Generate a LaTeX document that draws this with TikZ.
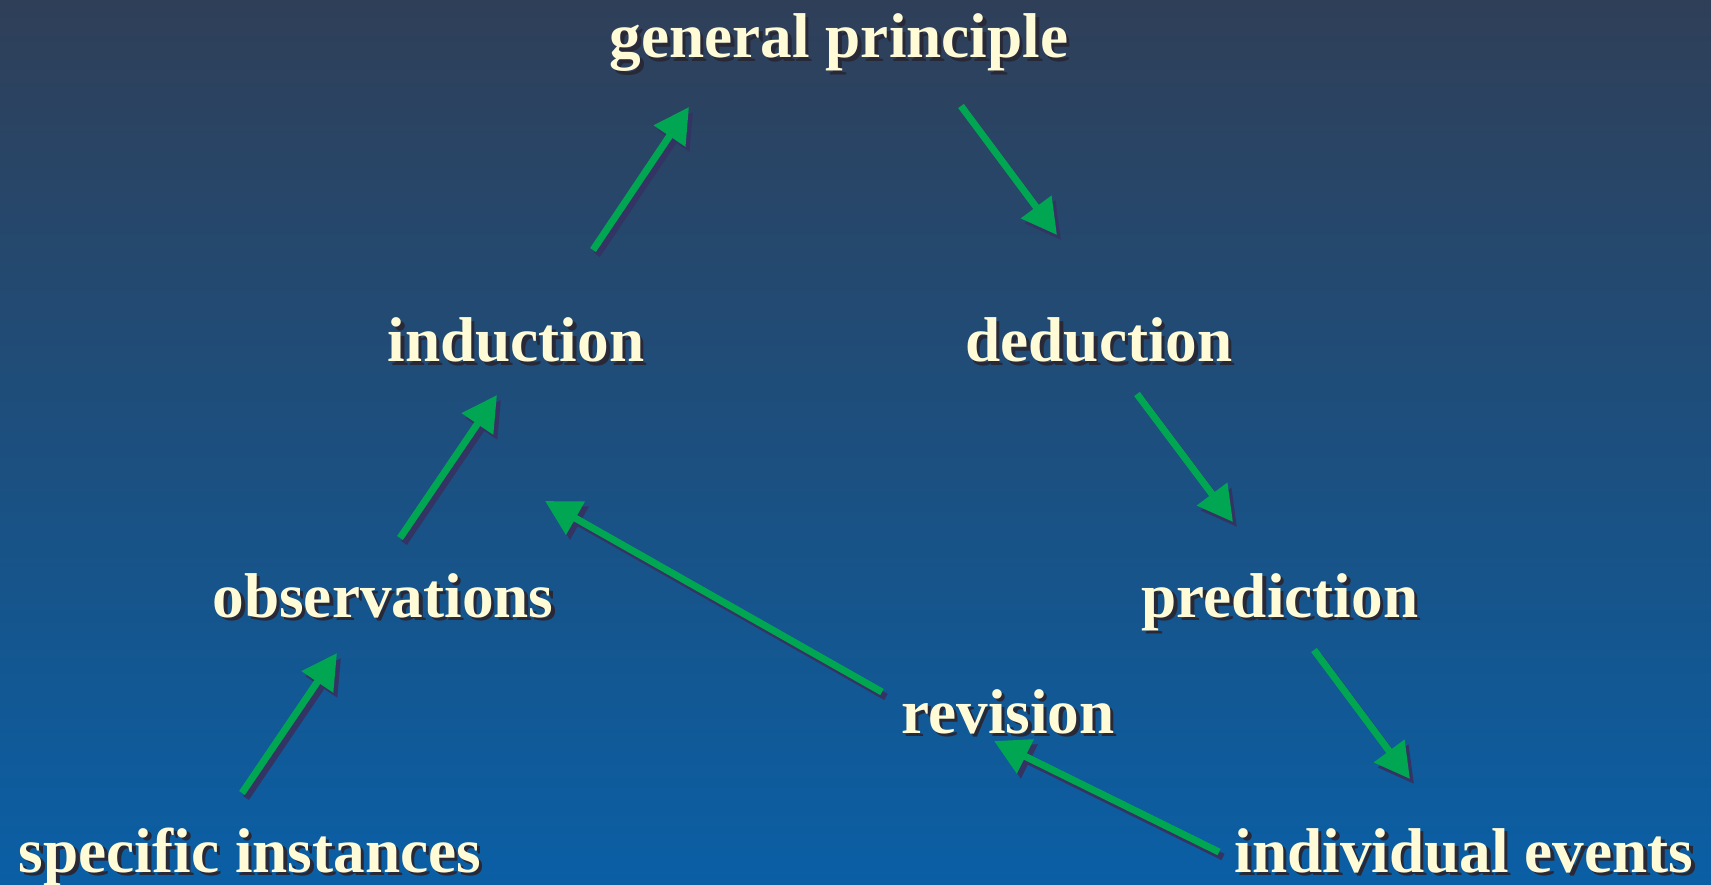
\documentclass[tikz,border=0pt]{standalone}
\usepackage{fontspec}
\setmainfont{Liberation Serif}
\usetikzlibrary{arrows.meta}
\definecolor{bgtop}{RGB}{47,63,88}
\definecolor{bgbot}{RGB}{10,95,165}
\definecolor{cream}{RGB}{255,251,214}
\definecolor{txtshade}{RGB}{40,40,55}
\definecolor{flowgreen}{RGB}{0,166,81}
\definecolor{flowshade}{RGB}{52,52,100}
\tikzset{
  word/.style={inner sep=0pt, anchor=base, text=cream,
    font=\fontsize{36}{40}\selectfont\bfseries},
  flow/.style={line width=4pt, ->}
}
% 带阴影的文字与箭头
\newcommand{\shadowed}[1]{%
  \makebox[0pt][l]{\hspace*{2pt}\raisebox{-2pt}{\color{txtshade}#1}}#1}
\newcommand{\stage}[3]{%
  \node[word] (#1) at (#2) {\shadowed{#3}};}
\newcommand{\flowarrow}[2]{%
  \draw[flow, flowshade] ([shift={(4,5)}]#1) -- ([shift={(4,5)}]#2);
  \draw[flow, flowgreen] (#1) -- (#2);}

\begin{document}
\begin{tikzpicture}[x=0.2mm, y=-0.2mm, >={Triangle[length=0.7cm, width=0.73cm]}]
% 背景
\useasboundingbox (0,0) rectangle (1711,885);
\shade[top color=bgtop, bottom color=bgbot] (0,0) rectangle (1711,885);
% 各环节
\stage{gp}{839,58}{general principle}
\stage{ind}{516,362}{induction}
\stage{ded}{1099,362}{deduction}
\stage{obs}{383,617}{observations}
\stage{pred}{1280,617}{prediction}
\stage{rev}{1008,733}{revision}
\stage{spec}{250,872}{specific instances}
\stage{evt}{1464,872}{individual events}
% 箭头端点
\coordinate (spec-out) at (242,793);  \coordinate (obs-in) at (337,653);
\coordinate (obs-out) at (400,538);   \coordinate (ind-in) at (497,395);
\coordinate (ind-out) at (593,250);   \coordinate (gp-in) at (689,107);
\coordinate (gp-out) at (961,106);    \coordinate (ded-in) at (1057,235);
\coordinate (ded-out) at (1137,394);  \coordinate (pred-in) at (1233,522);
\coordinate (pred-out) at (1314,650); \coordinate (evt-in) at (1410,779);
\coordinate (evt-out) at (1219,852);  \coordinate (rev-in) at (994,741);
\coordinate (rev-out) at (882,692);   \coordinate (ind-back) at (545,501);
% 归纳一侧
\flowarrow{spec-out}{obs-in}
\flowarrow{obs-out}{ind-in}
\flowarrow{ind-out}{gp-in}
% 演绎一侧
\flowarrow{gp-out}{ded-in}
\flowarrow{ded-out}{pred-in}
\flowarrow{pred-out}{evt-in}
% 修正
\flowarrow{evt-out}{rev-in}
\flowarrow{rev-out}{ind-back}
\end{tikzpicture}
\end{document}
